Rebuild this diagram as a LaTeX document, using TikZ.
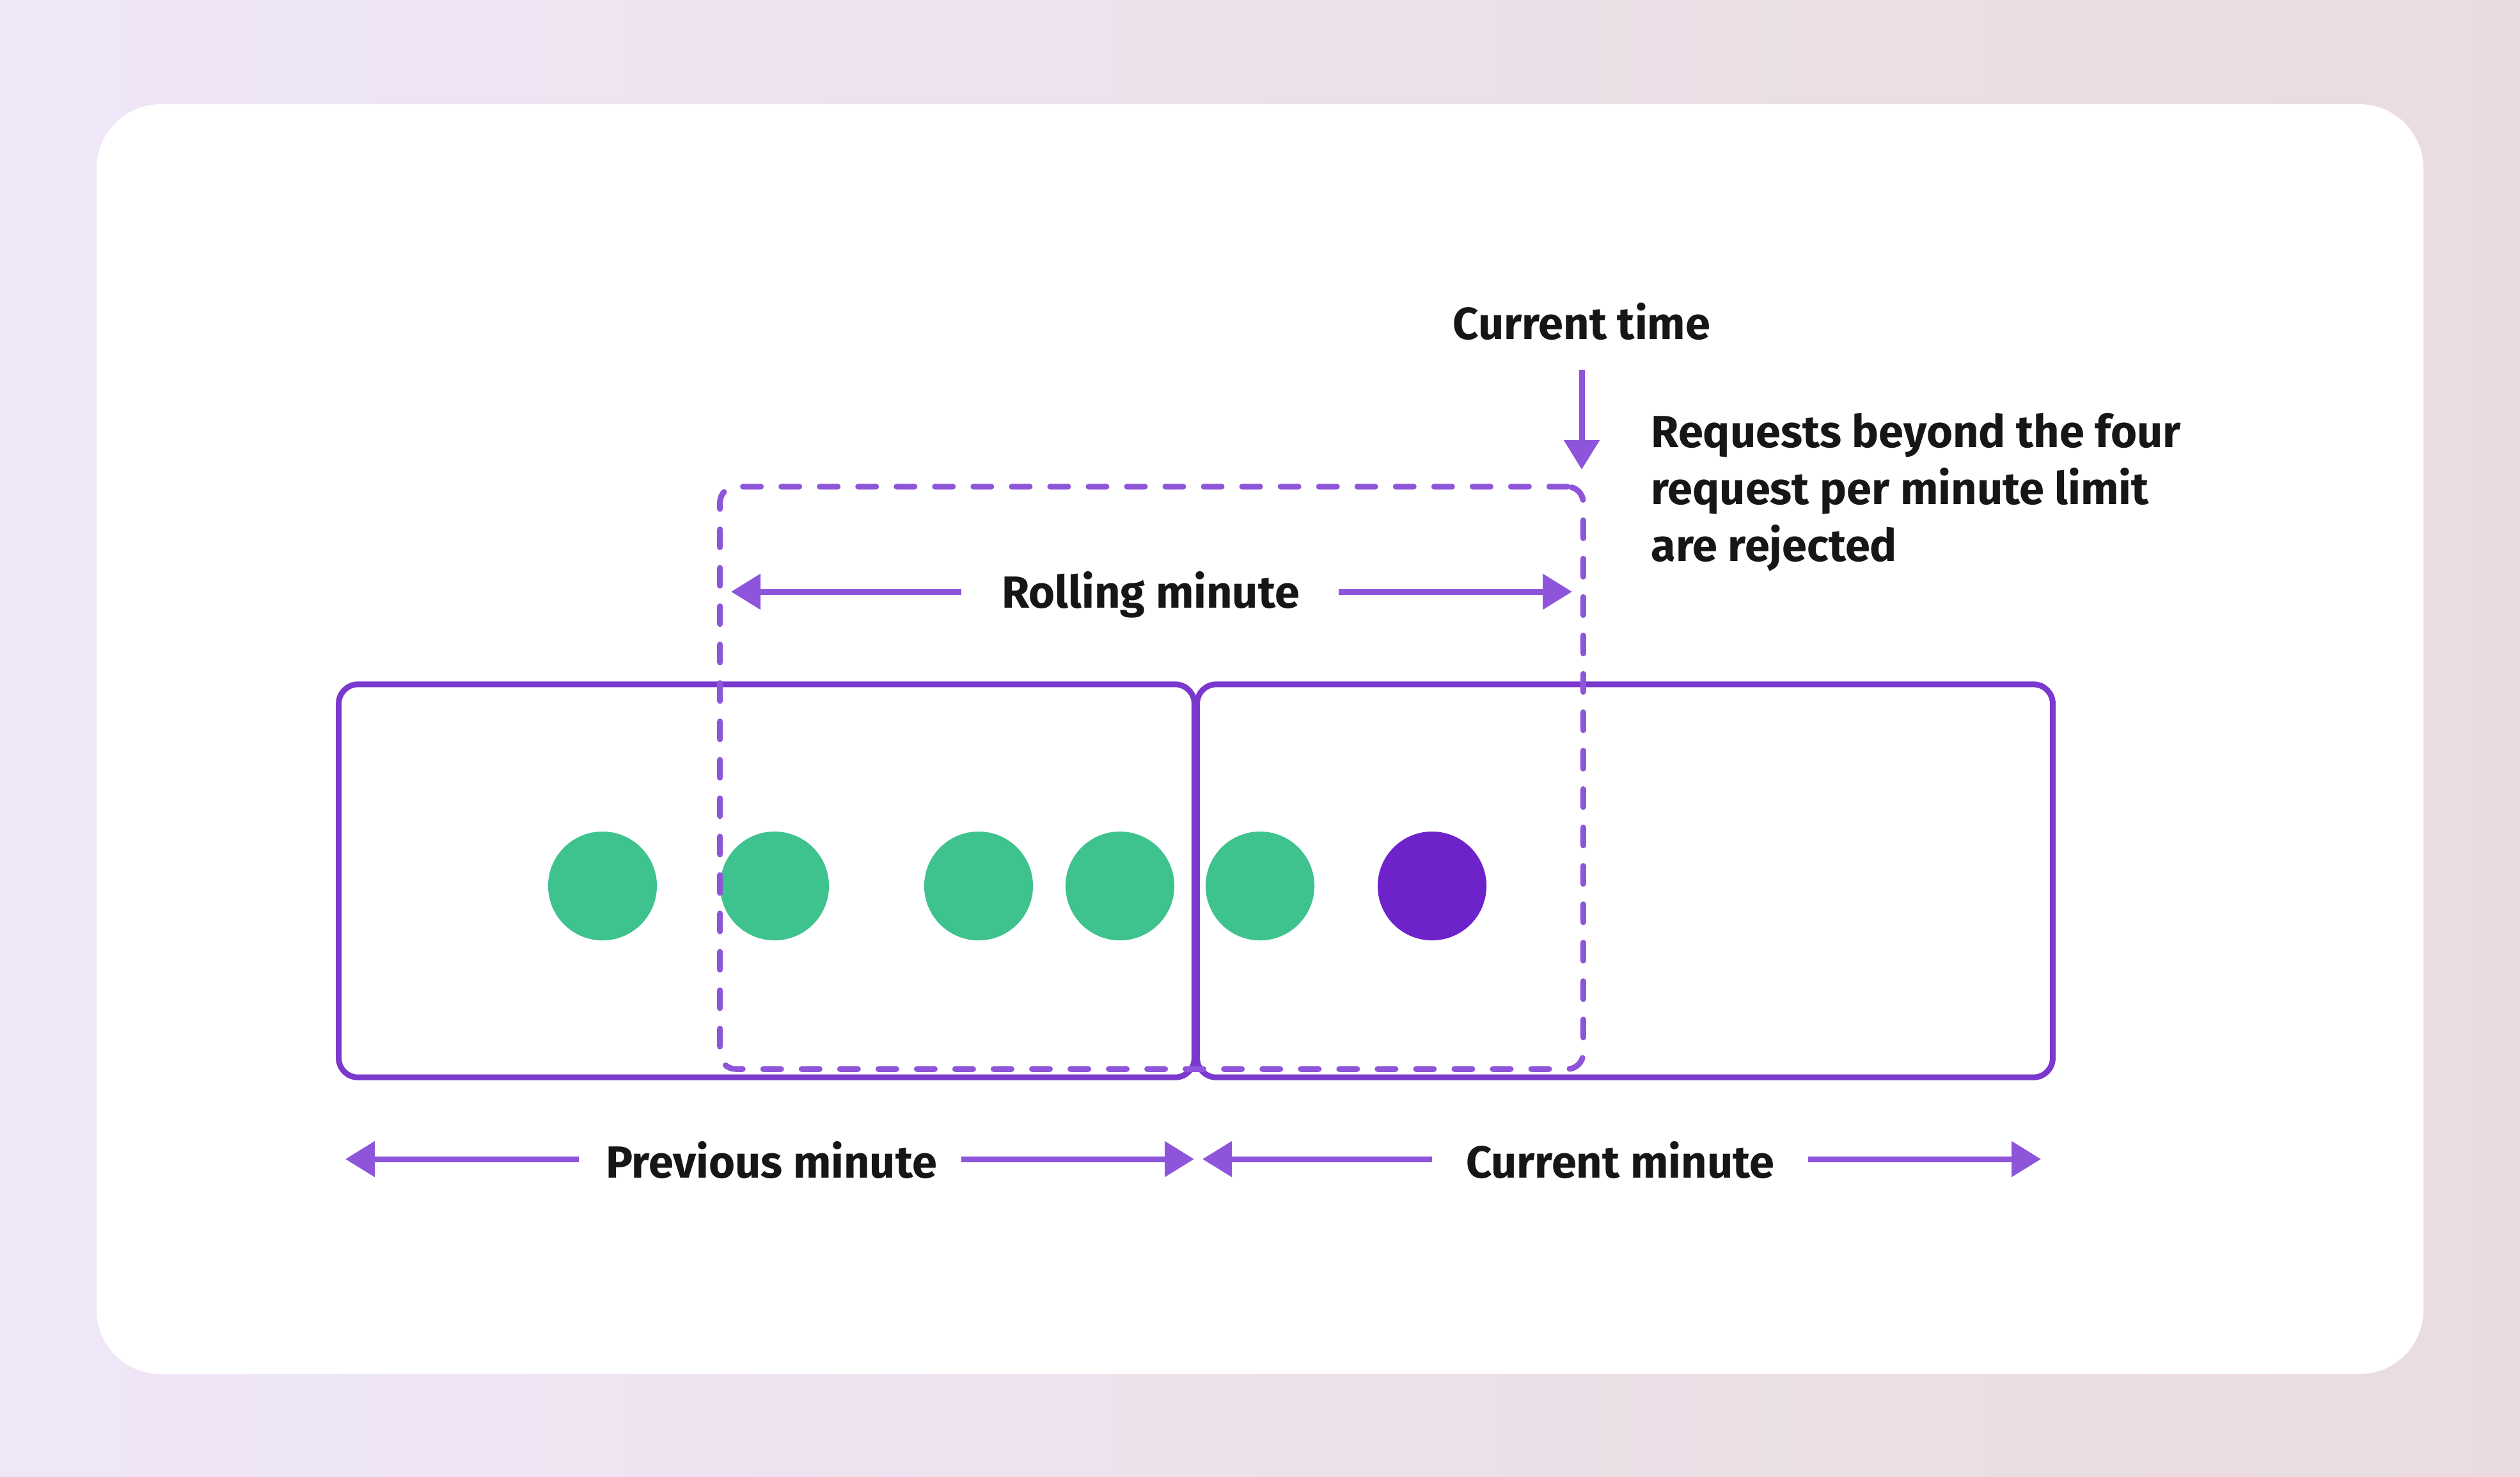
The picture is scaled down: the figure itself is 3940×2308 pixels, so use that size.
\documentclass[tikz,border=0pt]{standalone}
\usepackage{fontspec}
\setmainfont{Fira Sans}
\usetikzlibrary{arrows.meta}
\definecolor{bgL}{HTML}{EFE6F8}
\definecolor{bgR}{HTML}{EADCDE}
\definecolor{lineP}{HTML}{8E55DA}
\definecolor{boxP}{HTML}{7B38CD}
\definecolor{dotG}{HTML}{3EC28E}
\definecolor{dotP}{HTML}{6E22CA}
\definecolor{txt}{HTML}{161616}
\begin{document}
\begin{tikzpicture}[x=0.01cm,y=-0.01cm,
  lbl/.style={font=\fontsize{20}{25.3}\selectfont\bfseries, text=txt, inner sep=0pt},
  minbox/.style={draw=boxP, line width=0.09cm, rounded corners=0.3cm, inner sep=0pt},
  rollbox/.style={draw=lineP, line width=0.09cm, rounded corners=0.25cm, dash pattern=on 0.28cm off 0.32cm, line cap=round, inner sep=0pt},
  dot/.style={circle, fill=dotG, minimum size=1.7cm, inner sep=0pt},
  dotrej/.style={dot, fill=dotP},
  dimarrow/.style={draw=lineP, line width=0.09cm, -{Triangle[length=0.46cm,width=0.54cm]}},
]
% background and card
\shade[left color=bgL, right color=bgR] (0,0) rectangle (3940,2308);
\fill[white, rounded corners=1cm] (151,163) rectangle (3789,2148);
\useasboundingbox (0,0) rectangle (3940,2308);

% minute boxes
\node[minbox, minimum width=13.37cm, minimum height=6.14cm] (prev) at (1198.5,1377) {};
\node[minbox, minimum width=13.37cm, minimum height=6.14cm] (curr) at (2540.5,1377) {};

% requests
\node[dot] (r1) at (942,1385) {};
\node[dot] (r2) at (1211,1385) {};
\node[dot] (r3) at (1530,1385) {};
\node[dot] (r4) at (1751,1385) {};
\node[dot] (r5) at (1970,1385) {};
\node[dotrej] (r6) at (2239,1385) {};

% rolling window
\node[rollbox, minimum width=13.49cm, minimum height=9.10cm] (roll) at (1800.5,1216) {};

% labels
\node[lbl] (rolltxt) at (1799,930) {Rolling minute};
\node[lbl] (nowtxt) at (2473,503) {Current time};
\node[lbl, anchor=west, align=left] (rejtxt) at (2581,770) {Requests beyond the four\\request per minute limit\\are rejected};
\node[lbl] (prevtxt) at (1206,1814) {Previous minute};
\node[lbl] (currtxt) at (2533,1814) {Current minute};

% arrow end points
\coordinate (rollLa) at (1503,925);
\coordinate (rollLb) at (1143,925);
\coordinate (rollRa) at (2093,925);
\coordinate (rollRb) at (2458,925);
\coordinate (nowA) at (2473,578);
\coordinate (nowB) at (2473,734);
\coordinate (prevLa) at (905,1812);
\coordinate (prevLb) at (540,1812);
\coordinate (prevRa) at (1503,1812);
\coordinate (prevRb) at (1867,1812);
\coordinate (currLa) at (2239,1812);
\coordinate (currLb) at (1880,1812);
\coordinate (currRa) at (2827,1812);
\coordinate (currRb) at (3191,1812);

\draw[dimarrow] (rollLa) -- (rollLb);
\draw[dimarrow] (rollRa) -- (rollRb);
\draw[dimarrow] (nowA) -- (nowB);
\draw[dimarrow] (prevLa) -- (prevLb);
\draw[dimarrow] (prevRa) -- (prevRb);
\draw[dimarrow] (currLa) -- (currLb);
\draw[dimarrow] (currRa) -- (currRb);
\end{tikzpicture}
\end{document}
